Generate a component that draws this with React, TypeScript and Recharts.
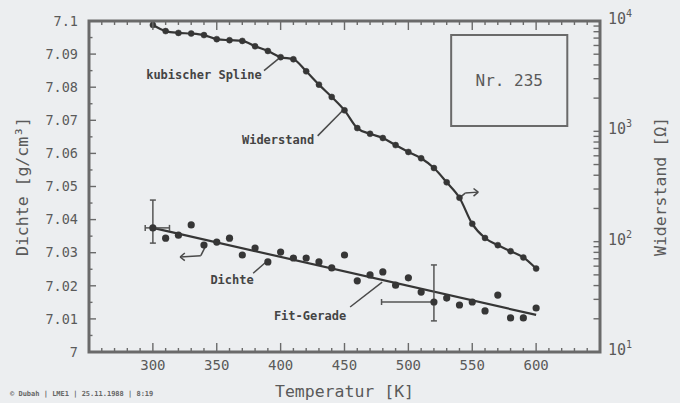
import React from 'react';
import {
  ComposedChart, Line, Scatter, XAxis, YAxis, ReferenceLine, ReferenceArea,
  ReferenceDot, ErrorBar, Label,
} from 'recharts';

// ---- data ----
const temperatures = [300, 310, 320, 330, 340, 350, 360, 370, 380, 390, 400, 410, 420, 430, 440, 450,
  460, 470, 480, 490, 500, 510, 520, 530, 540, 550, 560, 570, 580, 590, 600];
const density = [7.0375, 7.0344, 7.0353, 7.0384, 7.0323, 7.0332, 7.0344, 7.0293, 7.0314, 7.0272, 7.0302,
  7.0284, 7.0284, 7.0272, 7.0254, 7.0293, 7.0215, 7.0233, 7.0242, 7.0202, 7.0224, 7.0181, 7.0151,
  7.0163, 7.0142, 7.0151, 7.0124, 7.0172, 7.0103, 7.0103, 7.0133];
const resistance = [9200, 8100, 7800, 7700, 7450, 6850, 6700, 6600, 5900, 5350, 4700, 4500, 3500, 2650,
  2050, 1550, 1070, 950, 870, 750, 650, 570, 465, 345, 250, 145, 108, 93, 82, 72, 57];
const fitTemps = [300, 600];
const fitValues = [7.0375, 7.0112];
const errTemps = [300, 520];
const errValues = [7.0375, 7.0151];
const errY = [[0.0046, 0.0084], [0.0057, 0.0112]];
const errX = [[6, 13], [41, 0]];

const xDomain = [250, 650];
const leftDomain = [7, 7.1];
const rightDomain = [10, 10000];
const xMajorTicks = [300, 350, 400, 450, 500, 550, 600];
const xAllTicks = [260, 270, 280, 290, 300, 310, 320, 330, 340, 350, 360, 370, 380, 390, 400, 410, 420,
  430, 440, 450, 460, 470, 480, 490, 500, 510, 520, 530, 540, 550, 560, 570, 580, 590, 600, 610, 620,
  630, 640];
const leftTicks = [7, 7.01, 7.02, 7.03, 7.04, 7.05, 7.06, 7.07, 7.08, 7.09, 7.1];
const leftMinorTicks = [7.005, 7.015, 7.025, 7.035, 7.045, 7.055, 7.065, 7.075, 7.085, 7.095];
const rightTicks = [10, 100, 1000, 10000];
const rightMinorTicks = [20, 30, 40, 50, 60, 70, 80, 90, 200, 300, 400, 500, 600, 700, 800, 900,
  2000, 3000, 4000, 5000, 6000, 7000, 8000, 9000];

const annotationTexts = ['kubischer Spline', 'Widerstand', 'Dichte', 'Fit-Gerade'];
const annotationT = [340, 398, 362, 423];
const annotationD = [7.0837, 7.064, 7.0218, 7.0109];

// leader lines / pointer arrows (t1, d1, t2, d2)
const leaders = [
  [387, 7.0850, 398, 7.0885],
  [429, 7.0653, 449, 7.0731],
  [378.5, 7.0238, 388.6, 7.0272],
  [454.4, 7.0136, 479.5, 7.0211],
  // Dichte pointer (left axis)
  [340.9, 7.0317, 337.5, 7.0291],
  [337.5, 7.0291, 321.3, 7.0287],
  [321.3, 7.0287, 325.0, 7.0299],
  [321.3, 7.0287, 325.0, 7.0276],
  // Widerstand pointer (right axis)
  [539.8, 7.0465, 544.5, 7.0480],
  [544.5, 7.0480, 554.7, 7.0483],
  [554.7, 7.0483, 551.0, 7.0494],
  [554.7, 7.0483, 551.0, 7.0471],
];

const boxT = [533.5, 624.4];
const boxD = [7.0683, 7.0958];
const boxLabel = 'Nr. 235';

const rows = temperatures.map((t, i) => ({ t, d: density[i], r: resistance[i] }));
const fitRows = fitTemps.map((t, i) => ({ t, d: fitValues[i] }));
const errRows = errTemps.map((t, i) => ({ t, d: errValues[i], ey: errY[i], ex: errX[i] }));
const leftAllTicks = [...leftTicks, ...leftMinorTicks].sort((a, b) => a - b);
const rightAllTicks = [...rightTicks, ...rightMinorTicks].sort((a, b) => a - b);

const FRAME = '#6a6a6a';
const TICK = '#6a6a6a';
const INK = '#363636';
const TEXT = '#5a5a5a';
const MONO = '"DejaVu Sans Mono", monospace';

const BottomTick = (p: any) => {
  const { x, y, payload } = p;
  const v = payload.value;
  const major = xMajorTicks.includes(v);
  return (
    <g>
      <path d={`M${x},${y}V${y - (v % 50 === 0 ? 9 : 4)}`} stroke={TICK} strokeWidth={1.4} fill="none" />
      {major && (
        <text x={x} y={y + 8} dy="0.71em" textAnchor="middle" fill={TEXT} fontSize={14} fontFamily={MONO}>
          {v}
        </text>
      )}
    </g>
  );
};

const TopTick = (p: any) => {
  const { x, y, payload } = p;
  const v = payload.value;
  return <path d={`M${x},${y}V${y + (v % 50 === 0 ? 9 : 4)}`} stroke={TICK} strokeWidth={1.4} fill="none" />;
};

const LeftTick = (p: any) => {
  const { x, y, payload } = p;
  const v = payload.value;
  const major = leftTicks.includes(v);
  return (
    <g>
      <path d={`M${x},${y}H${x + (major ? 7 : 3.5)}`} stroke={TICK} strokeWidth={1.4} fill="none" />
      {major && (
        <text x={x - 11} y={y} dy="0.355em" textAnchor="end" fill={TEXT} fontSize={13.5} fontFamily={MONO}>
          {String(Number(v.toFixed(2)))}
        </text>
      )}
    </g>
  );
};

const RightTick = (p: any) => {
  const { x, y, payload } = p;
  const v = payload.value;
  const major = rightTicks.includes(v);
  const exp = Math.round(Math.log10(v));
  return (
    <g>
      <path d={`M${x},${y}H${x - 6.5}`} stroke={TICK} strokeWidth={1.4} fill="none" />
      {major && (
        <text x={x + 8} y={y + 3} fill={TEXT} fontSize={15} fontFamily={MONO} textAnchor="start">
          10<tspan dy={-7} fontSize={10}>{exp}</tspan>
        </text>
      )}
    </g>
  );
};

export default function App() {
  return (
    <div style={{ position: 'absolute', left: 0, top: 0, width: 680, height: 403, background: '#eceef0' }}>
      <ComposedChart
        width={680}
        height={403}
        data={rows}
        margin={{ top: 20, right: 20, bottom: 0, left: 0 }}
      >
        <XAxis
          xAxisId="x" dataKey="t" type="number" domain={xDomain} allowDataOverflow
          ticks={xAllTicks} interval={0} tickLine={false} tickSize={0} tickMargin={0}
          axisLine={false} height={51} tick={<BottomTick />}
        >
          <Label value="Temperatur [K]" position="insideBottom" offset={6}
            style={{ fill: TEXT, fontSize: 16.5, fontFamily: MONO }} />
        </XAxis>
        <XAxis
          xAxisId="top" orientation="top" dataKey="t" type="number" domain={xDomain} allowDataOverflow
          ticks={xAllTicks} interval={0} tickLine={false} tickSize={0} tickMargin={0}
          axisLine={false} height={1} tick={<TopTick />}
        />

        <YAxis
          yAxisId="L" type="number" domain={leftDomain} allowDataOverflow ticks={leftAllTicks} interval={0}
          tickLine={false} tickSize={0} tickMargin={0} width={89}
          axisLine={false} tick={<LeftTick />}
        >
          <Label value="Dichte [g/cm³]" angle={-90} position="insideLeft" offset={22}
            style={{ fill: TEXT, fontSize: 16.5, fontFamily: MONO, textAnchor: 'middle' }} />
        </YAxis>

        <YAxis
          yAxisId="R" orientation="right" type="number" scale="log" domain={rightDomain} allowDataOverflow
          ticks={rightAllTicks} interval={0} tick={<RightTick />} tickLine={false} tickSize={0} tickMargin={0}
          axisLine={false} width={60}
        >
          <Label value="Widerstand [Ω]" angle={-90} position="insideRight" offset={0}
            style={{ fill: TEXT, fontSize: 16.5, fontFamily: MONO, textAnchor: 'middle' }} />
        </YAxis>

        {/* hidden series bound to the top tick axis */}
        <Line xAxisId="top" yAxisId="L" dataKey="d" stroke="none" strokeOpacity={0}
          dot={false} activeDot={false} isAnimationActive={false} legendType="none" />

        {/* plot frame */}
        <ReferenceArea
          xAxisId="x" yAxisId="L" x1={xDomain[0]} x2={xDomain[1]} y1={leftDomain[0]} y2={leftDomain[1]}
          fill="none" fillOpacity={0} stroke={FRAME} strokeWidth={3} ifOverflow="visible"
        />

        {/* sample box */}
        <ReferenceArea
          xAxisId="x" yAxisId="L" x1={boxT[0]} x2={boxT[1]} y1={boxD[0]} y2={boxD[1]}
          fill="none" fillOpacity={0} stroke={FRAME} strokeWidth={2}
          label={{ value: boxLabel, position: 'center', fill: TEXT, fontSize: 16, fontFamily: MONO }}
        />

        {/* leaders and pointers */}
        {leaders.map((l, i) => (
          <ReferenceLine
            key={'ld' + i} xAxisId="x" yAxisId="L"
            segment={[{ x: l[0], y: l[1] }, { x: l[2], y: l[3] }]}
            stroke="#4a4a4a" strokeWidth={1.5}
          />
        ))}
        {annotationTexts.map((txt, i) => (
          <ReferenceDot
            key={'an' + i} xAxisId="x" yAxisId="L" x={annotationT[i]} y={annotationD[i]} r={0}
            fill="none" stroke="none"
            label={{ value: txt, position: 'center', fill: '#444', fontSize: 12, fontWeight: 'bold', fontFamily: MONO }}
          />
        ))}

        {/* fit line */}
        <Line
          xAxisId="x" yAxisId="L" data={fitRows} dataKey="d" stroke={INK} strokeWidth={2.2}
          dot={false} activeDot={false} isAnimationActive={false} type="linear"
        />
        {/* resistance spline */}
        <Line
          xAxisId="x" yAxisId="R" dataKey="r" type="monotone" stroke={INK} strokeWidth={2.2}
          dot={{ r: 3, fill: INK, stroke: INK, strokeWidth: 0.5 }} activeDot={false}
          isAnimationActive={false}
        />
        {/* density points */}
        <Scatter
          xAxisId="x" yAxisId="L" data={rows} dataKey="d" fill={INK}
          shape={(p: any) => <circle cx={p.cx} cy={p.cy} r={3.6} fill={INK} />}
          isAnimationActive={false}
        />
        {/* error bars */}
        <Scatter
          xAxisId="x" yAxisId="L" data={errRows} dataKey="d" fill="none"
          shape={() => <g />} isAnimationActive={false}
        >
          <ErrorBar dataKey="ey" direction="y" width={3} stroke="#555" strokeWidth={1.5} isAnimationActive={false} />
          <ErrorBar dataKey="ex" direction="x" width={3} stroke="#555" strokeWidth={1.5} isAnimationActive={false} />
        </Scatter>
      </ComposedChart>
      <div style={{
        position: 'absolute', left: 10, top: 390, fontSize: 7, fontWeight: 'bold',
        fontFamily: MONO, color: '#666', whiteSpace: 'nowrap',
      }}>
        © Dubah | LME1 | 25.11.1988 | 8:19
      </div>
    </div>
  );
}
